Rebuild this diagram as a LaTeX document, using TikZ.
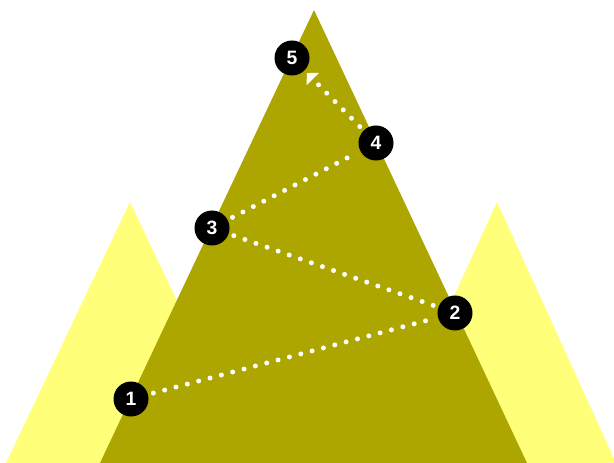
\documentclass[tikz,border=0pt]{standalone}
\usepackage{fontspec}
\setmainfont{Liberation Sans}
\usetikzlibrary{arrows.meta}
\definecolor{olive}{RGB}{173,165,0}
\definecolor{lightyel}{RGB}{255,255,122}
\tikzset{
  stepnum/.style={circle,fill=black,minimum size=26.25pt,inner sep=0pt,text=white,font=\bfseries\fontsize{14.5}{14.5}\selectfont},
  dotline/.style={white,line width=3.75pt,line cap=round,dash pattern=on 0pt off 8.8pt,shorten <=4pt,shorten >=4pt},
}
\begin{document}
\begin{tikzpicture}[x=0.75pt,y=-0.75pt]
\useasboundingbox (0,0) rectangle (614,463);
\fill[lightyel] (130,202) -- (6,463) -- (254,463) -- cycle;
\fill[lightyel] (497,202) -- (378,463) -- (616,463) -- cycle;
\fill[olive] (314,10) -- (100,463) -- (527,463) -- cycle;
\node[stepnum] (n1) at (131,399) {1};
\node[stepnum] (n2) at (455,313) {2};
\node[stepnum] (n3) at (212,228) {3};
\node[stepnum] (n4) at (376,143) {4};
\node[stepnum] (n5) at (292,58) {5};
\draw[dotline] (n1) -- (n2);
\draw[dotline] (n2) -- (n3);
\draw[dotline] (n3) -- (n4);
\draw[dotline,shorten >=2.5pt,-{Triangle[width=12.75pt,length=6.4pt,line cap=butt]}] (n4) -- (n5);
\end{tikzpicture}
\end{document}
